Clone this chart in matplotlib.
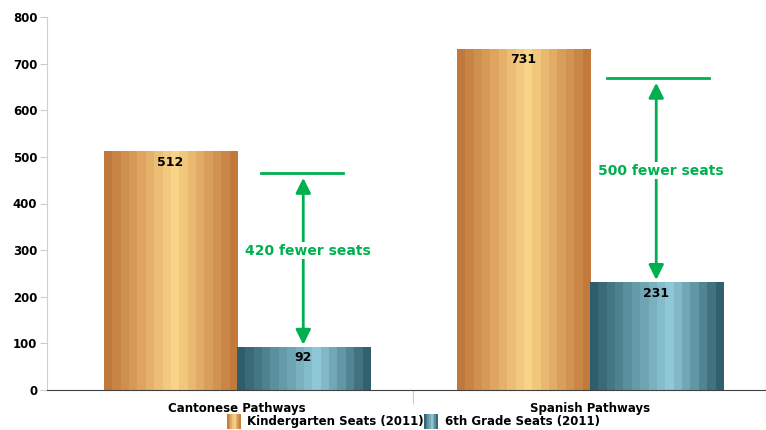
import numpy as np
import matplotlib.pyplot as plt
from matplotlib.colors import LinearSegmentedColormap

categories = ['Cantonese Pathways', 'Spanish Pathways']
kinder_seats = [512, 731]
sixth_seats = [92, 231]
series_names = ['Kindergarten Seats (2011)', '6th Grade Seats (2011)']
gap_labels = ['420 fewer seats', '500 fewer seats']
gap_top = [465, 669]
yticks = [0, 100, 200, 300, 400, 500, 600, 700, 800]

green = '#00b050'
orange_cmap = LinearSegmentedColormap.from_list(
    'orange', ['#bd7538', '#dda25e', '#f9d588', '#dda25e', '#bd7538'])
teal_cmap = LinearSegmentedColormap.from_list(
    'teal', ['#2a5866', '#5e93a1', '#90c9d7', '#5e93a1', '#2a5866'])


def stripes(n, peak):
    # banded horizontal gradient, lightest band at `peak`
    u = (np.arange(n) + 0.5) / n
    v = np.where(u < peak, 0.5 * u / peak, 0.5 + 0.5 * (u - peak) / (1 - peak))
    return v.reshape(1, -1)


plt.rcParams['font.family'] = 'DejaVu Sans'
fig = plt.figure(figsize=(7.66, 4.30), dpi=100)
ax = fig.add_axes([47 / 766, 40 / 430, 719 / 766, 373 / 430])

x = np.arange(len(categories))
w = 0.377
bk = ax.bar(x - w / 2, kinder_seats, w, color='none', zorder=2)
bs = ax.bar(x + w / 2, sixth_seats, w, color='none', zorder=2)

for bars, cmap, peak in [(bk, orange_cmap, 0.53), (bs, teal_cmap, 0.6)]:
    for r in bars:
        x0, y0 = r.get_x(), r.get_y()
        ax.imshow(stripes(16, peak), cmap=cmap, vmin=0, vmax=1, aspect='auto',
                  interpolation='nearest',
                  extent=[x0, x0 + r.get_width(), y0, y0 + r.get_height()],
                  zorder=2)
        ax.text(x0 + r.get_width() / 2, r.get_height() - 23, f'{r.get_height():.0f}',
                ha='center', va='center', fontsize=9, fontweight='bold', zorder=4)

# gap markers between the two bars
cap_span = [(-0.119, 0.113), (-0.139, 0.15)]
for i in range(len(categories)):
    ax_x = x[i] + 0.188
    lo, hi = cap_span[i]
    ax.plot([ax_x + lo, ax_x + hi], [gap_top[i], gap_top[i]], color=green, lw=2, zorder=3)
    ax.annotate('', xy=(ax_x, sixth_seats[i] + 5), xytext=(ax_x, gap_top[i] - 10),
                arrowprops=dict(arrowstyle='<|-|>,head_length=0.9,head_width=0.45',
                                color=green, lw=2, shrinkA=0, shrinkB=0), zorder=3)
    mid = (gap_top[i] + sixth_seats[i]) / 2 + 20
    ax.text(ax_x + 0.012, mid, gap_labels[i], ha='center', va='center', color=green,
            fontsize=10, fontweight='bold', zorder=4,
            bbox=dict(facecolor='white', edgecolor='none', pad=1))

ax.set_xlim(-0.538, 1.499)
ax.set_ylim(0, 800)
ax.set_yticks(yticks)
ax.set_yticklabels([str(t) for t in yticks], fontsize=8.5, fontweight='bold')
ax.tick_params(axis='y', length=5, color='#cccccc', pad=2)
ax.set_xticks([0.5])
ax.set_xticklabels([''])
ax.tick_params(axis='x', length=10, color='#cccccc', direction='out')
for i, c in enumerate(categories):
    ax.text(x[i], -39, c, ha='center', va='center', fontsize=8.5, fontweight='bold',
            clip_on=False)

for s in ['top', 'right']:
    ax.spines[s].set_visible(False)
ax.spines['left'].set_color('#d0d0d0')
ax.spines['bottom'].set_color('#404040')
ax.spines['bottom'].set_zorder(5)

# legend with gradient swatches
for sx, tx, name, cmap, peak in [(227, 247, series_names[0], orange_cmap, 0.53),
                                 (424, 445, series_names[1], teal_cmap, 0.6)]:
    sw = fig.add_axes([sx / 766, 1 / 430, 14 / 766, 15 / 430])
    sw.imshow(stripes(8, peak), cmap=cmap, vmin=0, vmax=1, aspect='auto',
              interpolation='nearest')
    sw.axis('off')
    fig.text(tx / 766, 1 - 422 / 430, name, ha='left', va='center',
             fontsize=8.5, fontweight='bold')

fig.savefig('out.png', dpi=100)
